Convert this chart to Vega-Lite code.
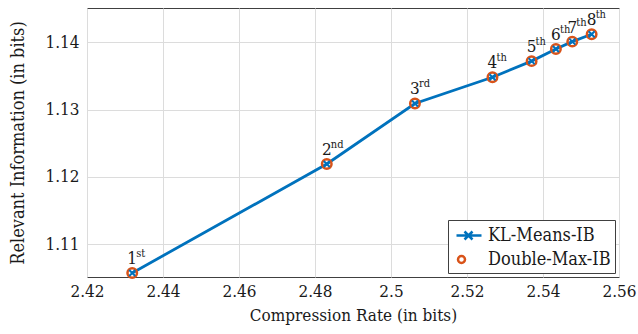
{
  "$schema": "https://vega.github.io/schema/vega-lite/v6.json",
  "width": 532,
  "height": 269,
  "autosize": {"type": "none"},
  "padding": {"left": 87, "top": 8, "right": 19, "bottom": 57},
  "background": "white",
  "config": {
    "font": "DejaVu Serif Condensed, DejaVu Serif",
    "view": {"stroke": "#404040", "strokeWidth": 1},
    "axis": {
      "labelFont": "DejaVu Serif Condensed, DejaVu Serif",
      "titleFont": "DejaVu Serif Condensed, DejaVu Serif",
      "labelFontSize": 17,
      "titleFontSize": 17,
      "titleFontWeight": "normal",
      "labelColor": "#1a1a1a",
      "titleColor": "#1a1a1a",
      "grid": true,
      "gridColor": "#dcdcdc",
      "gridWidth": 1,
      "ticks": false,
      "domain": false,
      "labelFlush": false,
      "labelOverlap": false
    }
  },
  "data": {
    "values": [
      {"rate": 2.4319, "info": 1.1057, "n": "1", "sfx": "st", "series": "Double-Max-IB"},
      {"rate": 2.4831, "info": 1.1219, "n": "2", "sfx": "nd", "series": "Double-Max-IB"},
      {"rate": 2.5063, "info": 1.1309, "n": "3", "sfx": "rd", "series": "Double-Max-IB"},
      {"rate": 2.5267, "info": 1.1348, "n": "4", "sfx": "th", "series": "Double-Max-IB"},
      {"rate": 2.5370, "info": 1.1372, "n": "5", "sfx": "th", "series": "Double-Max-IB"},
      {"rate": 2.5434, "info": 1.1390, "n": "6", "sfx": "th", "series": "Double-Max-IB"},
      {"rate": 2.5477, "info": 1.1401, "n": "7", "sfx": "th", "series": "Double-Max-IB"},
      {"rate": 2.5528, "info": 1.1412, "n": "8", "sfx": "th", "series": "Double-Max-IB"},
      {"rate": 2.4319, "info": 1.1057, "n": "1", "sfx": "st", "series": "KL-Means-IB"},
      {"rate": 2.4831, "info": 1.1219, "n": "2", "sfx": "nd", "series": "KL-Means-IB"},
      {"rate": 2.5063, "info": 1.1309, "n": "3", "sfx": "rd", "series": "KL-Means-IB"},
      {"rate": 2.5267, "info": 1.1348, "n": "4", "sfx": "th", "series": "KL-Means-IB"},
      {"rate": 2.5370, "info": 1.1372, "n": "5", "sfx": "th", "series": "KL-Means-IB"},
      {"rate": 2.5434, "info": 1.1390, "n": "6", "sfx": "th", "series": "KL-Means-IB"},
      {"rate": 2.5477, "info": 1.1401, "n": "7", "sfx": "th", "series": "KL-Means-IB"},
      {"rate": 2.5528, "info": 1.1412, "n": "8", "sfx": "th", "series": "KL-Means-IB"}
    ]
  },
  "encoding": {
    "x": {
      "field": "rate",
      "type": "quantitative",
      "scale": {"domain": [2.42, 2.56], "nice": false, "zero": false},
      "axis": {
        "title": "Compression Rate (in bits)",
        "values": [2.42, 2.44, 2.46, 2.48, 2.5, 2.52, 2.54, 2.56],
        "format": ".3~f",
        "labelPadding": 6,
        "titlePadding": 8
      }
    },
    "y": {
      "field": "info",
      "type": "quantitative",
      "scale": {"domain": [1.1051, 1.1451], "nice": false, "zero": false},
      "axis": {
        "title": "Relevant Information (in bits)",
        "titleFontSize": 18,
        "values": [1.11, 1.12, 1.13, 1.14],
        "format": ".2f",
        "labelPadding": 8,
        "titlePadding": 17
      }
    }
  },
  "layer": [
    {
      "transform": [{"filter": "datum.series === 'KL-Means-IB'"}],
      "mark": {"type": "line", "color": "#0072BD", "strokeWidth": 2.8}
    },
    {
      "transform": [{"filter": "datum.series === 'Double-Max-IB'"}],
      "mark": {"type": "point", "shape": "circle", "filled": false, "strokeWidth": 2.5, "size": 90, "opacity": 1, "color": "#D95319"}
    },
    {
      "transform": [{"filter": "datum.series === 'KL-Means-IB'"}],
      "mark": {"type": "point", "shape": "M-1,-1L1,1M-1,1L1,-1", "filled": false, "strokeWidth": 2, "size": 36, "opacity": 1, "color": "#0072BD"}
    },
    {
      "transform": [{"filter": "false"}],
      "mark": {"type": "point", "filled": false, "strokeWidth": 2.5, "opacity": 1},
      "encoding": {
        "color": {
          "field": "series",
          "type": "nominal",
          "scale": {"domain": ["KL-Means-IB", "Double-Max-IB"], "range": ["#0072BD", "#D95319"]},
          "legend": {
            "title": null,
            "orient": "bottom-right",
            "offset": 4,
            "fillColor": "white",
            "strokeColor": "#404040",
            "padding": 4,
            "labelFont": "DejaVu Serif Condensed, DejaVu Serif",
            "labelFontSize": 18,
            "labelColor": "#1a1a1a",
            "labelOffset": 13,
            "rowPadding": 3,
            "symbolSize": 400,
            "symbolStrokeWidth": 2.5
          }
        },
        "shape": {
          "field": "series",
          "type": "nominal",
          "scale": {
            "domain": ["KL-Means-IB", "Double-Max-IB"],
            "range": [
              "M-0.7,0L1.8,0M0.1,-0.4L0.9,0.4M0.1,0.4L0.9,-0.4",
              "M-0.55,0A0.35,0.35 0 1,0 0.15,0A0.35,0.35 0 1,0 -0.55,0Z"
            ]
          },
          "legend": {
            "title": null,
            "orient": "bottom-right",
            "offset": 4,
            "fillColor": "white",
            "strokeColor": "#404040",
            "padding": 4,
            "labelFont": "DejaVu Serif Condensed, DejaVu Serif",
            "labelFontSize": 18,
            "labelColor": "#1a1a1a",
            "labelOffset": 13,
            "rowPadding": 3,
            "symbolSize": 400,
            "symbolStrokeWidth": 2.5
          }
        }
      }
    },
    {
      "transform": [{"filter": "datum.series === 'KL-Means-IB'"}],
      "mark": {"type": "text", "fontSize": 17, "align": "center", "baseline": "alphabetic", "dy": -9, "color": "#1a1a1a"},
      "encoding": {"text": {"field": "n"}}
    },
    {
      "transform": [{"filter": "datum.series === 'KL-Means-IB'"}],
      "mark": {"type": "text", "fontSize": 11, "align": "left", "baseline": "alphabetic", "dx": 4, "dy": -16, "color": "#1a1a1a"},
      "encoding": {"text": {"field": "sfx"}}
    }
  ]
}
